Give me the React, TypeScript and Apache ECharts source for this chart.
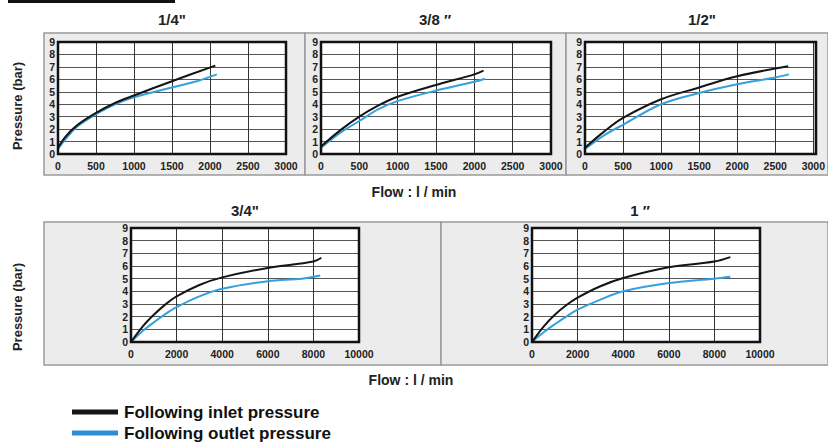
import React, { useEffect, useRef } from "react";
import * as echarts from "echarts";

const titles = ["1/4\"", "3/8 \u2033", "1/2\"", "3/4\"", "1 \u2033"];
const yTicks = [0, 1, 2, 3, 4, 5, 6, 7, 8, 9];
const smallFlowMax = 3000;
const smallFlowStep = 500;
const largeFlowMax = 10000;
const largeFlowStep = 2000;

const inlet14 = [[0, 0.5], [100, 1.4], [250, 2.3], [500, 3.3], [750, 4.1], [1000, 4.7], [1500, 5.85], [2070, 7.1]];
const outlet14 = [[0, 0.4], [100, 1.2], [250, 2.2], [500, 3.2], [750, 4.0], [1000, 4.55], [1500, 5.35], [1800, 5.8], [2090, 6.4]];
const inlet38 = [[0, 0.6], [250, 1.9], [500, 3.0], [750, 3.9], [1000, 4.6], [1500, 5.55], [2000, 6.4], [2120, 6.7]];
const outlet38 = [[0, 0.5], [250, 1.7], [500, 2.65], [750, 3.6], [1000, 4.25], [1500, 5.1], [2000, 5.8], [2140, 6.05]];
const inlet12 = [[0, 0.5], [250, 1.8], [500, 2.9], [1000, 4.4], [1500, 5.35], [2000, 6.25], [2670, 7.05]];
const outlet12 = [[0, 0.4], [250, 1.5], [500, 2.35], [1000, 4.0], [1500, 4.9], [2000, 5.6], [2500, 6.15], [2680, 6.4]];
const inlet34 = [[0, 0], [500, 1.2], [1000, 2.15], [1500, 2.95], [2000, 3.6], [3000, 4.5], [4000, 5.1], [6000, 5.85], [8000, 6.35], [8350, 6.65]];
const outlet34 = [[0, 0], [500, 0.85], [1000, 1.55], [1500, 2.2], [2000, 2.75], [3000, 3.6], [4000, 4.2], [6000, 4.8], [7500, 5.0], [8300, 5.25]];
const inlet1 = [[0, 0], [500, 1.2], [1000, 2.15], [1500, 2.9], [2000, 3.5], [3000, 4.4], [4000, 5.05], [6000, 5.9], [8000, 6.35], [8700, 6.7]];
const outlet1 = [[0, 0], [500, 0.75], [1000, 1.4], [1500, 2.0], [2000, 2.55], [3000, 3.35], [4000, 4.0], [6000, 4.65], [8000, 5.0], [8700, 5.15]];

const inletSeries = [inlet14, inlet38, inlet12, inlet34, inlet1];
const outletSeries = [outlet14, outlet38, outlet12, outlet34, outlet1];

const FONT = "'Liberation Sans', Arial, sans-serif";
const BLACK = "#151515";
const BLUE = "#35a0dc";

const grids = [
  { left: 58, top: 42, width: 228, height: 112 },
  { left: 321, top: 42, width: 230, height: 112 },
  { left: 585, top: 42, width: 231, height: 112 },
  { left: 131, top: 228, width: 228, height: 114 },
  { left: 532, top: 228, width: 228, height: 114 },
];
const titlePos = [
  [172, 19],
  [435, 19],
  [702, 19],
  [245, 210],
  [640, 210],
];
const panels = [
  [44, 33, 261, 142],
  [305, 33, 261, 142],
  [566, 33, 262, 142],
  [44, 222, 397, 143],
  [441, 222, 387, 143],
];

export default function App() {
  const ref = useRef<HTMLDivElement>(null);
  useEffect(() => {
    if (!ref.current) return;
    const chart = echarts.init(ref.current, null, { renderer: "svg" });
    const xAxis: any[] = [];
    const yAxis: any[] = [];
    const series: any[] = [];
    grids.forEach((g, i) => {
      const big = i >= 3;
      xAxis.push({
        type: "value",
        gridIndex: i,
        min: 0,
        max: big ? largeFlowMax : smallFlowMax,
        interval: big ? largeFlowStep : smallFlowStep,
        axisLine: { show: false },
        axisTick: { show: false },
        axisLabel: {
          color: "#222",
          fontSize: 10.5,
          fontWeight: "bold",
          fontFamily: FONT,
          margin: 6,
          formatter: (v: number) => String(v),
        },
        splitLine: { show: true, lineStyle: { color: "#333", width: 1 } },
      });
      yAxis.push({
        type: "value",
        gridIndex: i,
        min: yTicks[0],
        max: yTicks[yTicks.length - 1],
        interval: 1,
        axisLine: { show: false },
        axisTick: { show: false },
        axisLabel: { color: "#222", fontSize: 10.5, fontWeight: "bold", fontFamily: FONT, margin: 3 },
        splitLine: { show: true, lineStyle: { color: "#555", width: 1 } },
      });
      series.push({
        type: "line",
        name: "Following outlet pressure",
        xAxisIndex: i,
        yAxisIndex: i,
        data: outletSeries[i],
        smooth: 0.35,
        showSymbol: false,
        lineStyle: { color: BLUE, width: 2 },
        z: 3,
      });
      series.push({
        type: "line",
        name: "Following inlet pressure",
        xAxisIndex: i,
        yAxisIndex: i,
        data: inletSeries[i],
        smooth: 0.35,
        showSymbol: false,
        lineStyle: { color: BLACK, width: 2 },
        z: 4,
      });
    });

    const graphic: any[] = [];
    panels.forEach((p) => {
      graphic.push({
        type: "rect",
        z: -10,
        shape: { x: p[0], y: p[1], width: p[2], height: p[3] },
        style: { fill: "#ececec", stroke: "#9a9a9a", lineWidth: 1.5 },
      });
    });
    grids.forEach((g) => {
      graphic.push({
        type: "rect",
        z: 10,
        silent: true,
        shape: { x: g.left, y: g.top, width: g.width, height: g.height },
        style: { fill: "none", stroke: "#111", lineWidth: 2.5 },
      });
    });
    titles.forEach((t, i) => {
      graphic.push({
        type: "text",
        x: titlePos[i][0],
        y: titlePos[i][1],
        style: {
          text: t,
          fontSize: 15,
          fontWeight: "bold",
          fontFamily: FONT,
          fill: "#222",
          align: "center",
          verticalAlign: "middle",
        },
      });
    });
    [106, 307].forEach((cy) => {
      graphic.push({
        type: "text",
        x: 17,
        y: cy,
        rotation: Math.PI / 2,
        style: {
          text: "Pressure (bar)",
          fontSize: 13,
          fontWeight: "bold",
          fontFamily: FONT,
          fill: "#222",
          align: "center",
          verticalAlign: "middle",
        },
      });
    });
    [[414, 192], [411, 380]].forEach((p) => {
      graphic.push({
        type: "text",
        x: p[0],
        y: p[1],
        style: {
          text: "Flow : l / min",
          fontSize: 14,
          fontWeight: "bold",
          fontFamily: FONT,
          fill: "#222",
          align: "center",
          verticalAlign: "middle",
        },
      });
    });
    // top-left decorative rule
    graphic.push({ type: "rect", shape: { x: 8, y: 0, width: 167, height: 3 }, style: { fill: "#111" } });
    // legend
    const legendItems = [
      { label: "Following inlet pressure", color: BLACK, y: 412 },
      { label: "Following outlet pressure", color: "#2f8fd6", y: 433 },
    ];
    legendItems.forEach((l) => {
      graphic.push({ type: "rect", shape: { x: 72, y: l.y - 2.5, width: 46, height: 5 }, style: { fill: l.color } });
      graphic.push({
        type: "text",
        x: 124,
        y: l.y,
        style: {
          text: l.label,
          fontSize: 17,
          fontWeight: "bold",
          fontFamily: FONT,
          fill: "#111",
          align: "left",
          verticalAlign: "middle",
        },
      });
    });

    chart.setOption({
      animation: false,
      backgroundColor: "#ffffff",
      grid: grids.map((g) => ({ ...g, show: true, backgroundColor: "#ffffff", borderWidth: 0, containLabel: false })),
      xAxis,
      yAxis,
      series,
      graphic,
    });
    return () => chart.dispose();
  }, []);
  return <div ref={ref} style={{ position: "fixed", left: 0, top: 0, width: 828, height: 443 }} />;
}
